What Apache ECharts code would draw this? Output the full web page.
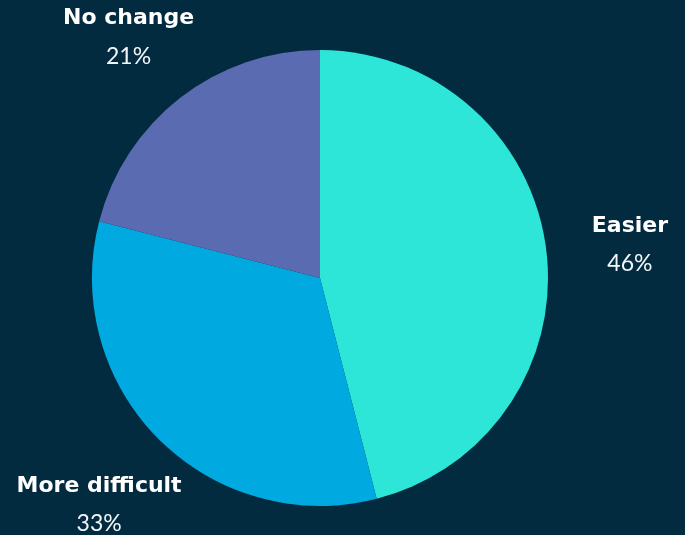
<!DOCTYPE html>
<html><head><meta charset="utf-8">
<script src="https://cdn.jsdelivr.net/npm/echarts@6/dist/echarts.min.js"></script>
<style>html,body{margin:0;padding:0;background:#022b40;}#c{width:685px;height:535px;}</style>
</head><body><div id="c"></div>
<script>
var categories = ['Easier', 'More difficult', 'No change'];
var values = [46, 33, 21];
var colors = ['#2ee6d8', '#00a9e0', '#5b6bb2'];

var cx = 320, cy = 278, R = 228, labelDist = 1.37;
var total = values.reduce(function(a,b){return a+b;}, 0);
var mids = [];
var acc = 0;
values.forEach(function(v){ mids.push((acc + v/2) / total * 2 * Math.PI); acc += v; });

var chart = echarts.init(document.getElementById('c'));
chart.setOption({
  backgroundColor: '#022b40',
  animation: false,
  series: [{
    type: 'pie',
    center: [cx, cy],
    radius: R,
    startAngle: 90,
    clockwise: true,
    data: categories.map(function(c, i){ return {name: c, value: values[i], itemStyle: {color: colors[i]}}; }),
    itemStyle: {borderWidth: 0},
    label: {
      show: true,
      position: 'outside',
      overflow: 'none',
      formatter: function(p){ return '{n|' + p.name + '}\n{p|' + p.value + '%}'; },
      rich: {
        n: {fontFamily: 'DejaVu Sans', fontWeight: 'bold', fontSize: 22, color: '#ffffff', align: 'center', lineHeight: 38},
        p: {fontFamily: 'Lato', fontStyle: 'normal', fontWeight: 'normal', fontSize: 23, color: '#f2f6f8', align: 'center', lineHeight: 38}
      }
    },
    labelLine: {show: false},
    labelLayout: function(params){
      var a = mids[params.dataIndex];
      return {
        x: cx + R * labelDist * Math.sin(a),
        y: cy - R * labelDist * Math.cos(a) + 6,
        align: 'center',
        verticalAlign: 'middle'
      };
    },
    emphasis: {disabled: true}
  }]
});
</script></body></html>
